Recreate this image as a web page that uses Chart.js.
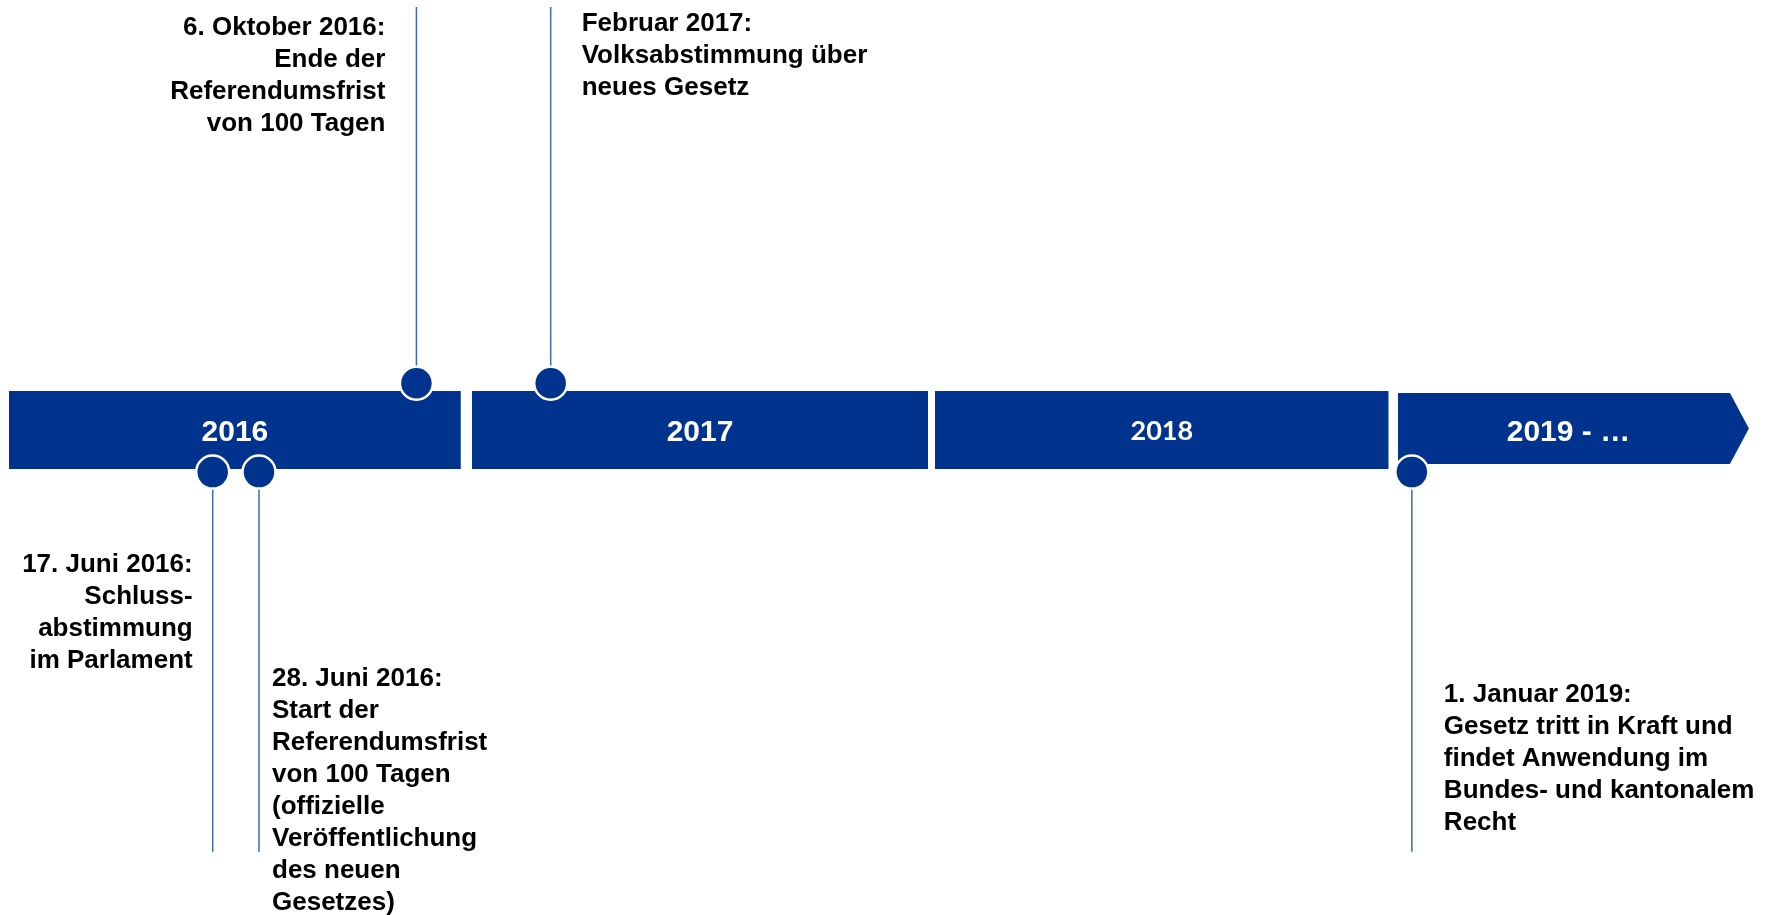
<!DOCTYPE html>
<html>
<head>
<meta charset="utf-8">
<script src="https://cdn.jsdelivr.net/npm/chart.js@4.4.1/dist/chart.umd.min.js"></script>
<style>
  html, body { margin: 0; padding: 0; background: #fff; }
  canvas { display: block; }
</style>
</head>
<body>
<canvas id="timeline" width="1776" height="915"></canvas>
<script>
// years on the band (x values are fractional years)
const years = ['2016', '2017', '2018', '2019 - …'];
const yearStart = [2016, 2017, 2018, 2019];
const yearEnd = [2016.976, 2017.985, 2018.98, 2019.717];
const arrowTip = 2019.758;

// events
const eventDates = [2016.44, 2016.54, 2016.88, 2017.17, 2019.03];
const eventSide = ['below', 'below', 'above', 'above', 'below'];
const eventTexts = [
  ['17. Juni 2016:', 'Schluss-', 'abstimmung', 'im Parlament'],
  ['28. Juni 2016:', 'Start der', 'Referendumsfrist', 'von 100 Tagen', '(offizielle', 'Veröffentlichung', 'des neuen', 'Gesetzes)'],
  ['6. Oktober 2016:', 'Ende der', 'Referendumsfrist', 'von 100 Tagen'],
  ['Februar 2017:', 'Volksabstimmung über', 'neues Gesetz'],
  ['1. Januar 2019:', 'Gesetz tritt in Kraft und', 'findet Anwendung im', 'Bundes- und kantonalem', 'Recht'],
];

// layout / style
const navy = '#00338d';
const lineBlue = '#3f67b8';
const barTop = 1, barBottom = -1;
const arrowTop = 0.95, arrowBottom = -0.87, arrowMid = 0.04;
const circleAbove = 1.2, circleBelow = -1.08;
const lineAbove = 10.85, lineBelow = -10.82;
const labelLayout = [
  { align: 'right', dx: -20, y: -3.64 },
  { align: 'left', dx: 13, y: -6.56 },
  { align: 'right', dx: -31, y: 10.13 },
  { align: 'left', dx: 31, y: 10.23 },
  { align: 'left', dx: 32, y: -6.97 },
];
const sans = '"Liberation Sans", Arial, Helvetica, sans-serif';
const yearFonts = ['bold 30px ' + sans, 'bold 30px ' + sans, 'bold 27px Lato, "Open Sans", sans-serif', 'bold 30px ' + sans];
const yearDx = [0, 0, 0, -5];
const textFont = 'bold 26px ' + sans;
const lineHeight = 32;

const datasets = [];

// plain year bars
for (let i = 0; i < 3; i++) {
  datasets.push({
    data: [{ x: yearStart[i], y: barTop }, { x: yearEnd[i], y: barTop }],
    showLine: true,
    fill: { value: barBottom },
    backgroundColor: navy,
    borderColor: 'transparent',
    borderWidth: 0,
    pointRadius: 0,
    order: 3,
  });
}

// last bar with arrow head: top edge, then bottom edge filled to it
datasets.push({
  data: [{ x: yearStart[3], y: arrowTop }, { x: yearEnd[3], y: arrowTop }, { x: arrowTip, y: arrowMid }],
  showLine: true,
  fill: false,
  borderColor: 'transparent',
  borderWidth: 0,
  pointRadius: 0,
  order: 3,
});
datasets.push({
  data: [{ x: yearStart[3], y: arrowBottom }, { x: yearEnd[3], y: arrowBottom }, { x: arrowTip, y: arrowMid }],
  showLine: true,
  fill: '-1',
  backgroundColor: navy,
  borderColor: 'transparent',
  borderWidth: 0,
  pointRadius: 0,
  order: 3,
});

// connector lines
eventDates.forEach((d, i) => {
  const up = eventSide[i] === 'above';
  datasets.push({
    data: [{ x: d, y: up ? lineAbove : lineBelow }, { x: d, y: up ? circleAbove : circleBelow }],
    showLine: true,
    fill: false,
    borderColor: lineBlue,
    borderWidth: 1.5,
    pointRadius: 0,
    order: 2,
  });
});

// event markers
datasets.push({
  data: eventDates.map((d, i) => ({ x: d, y: eventSide[i] === 'above' ? circleAbove : circleBelow })),
  showLine: false,
  pointRadius: 16.5,
  pointBackgroundColor: navy,
  pointBorderColor: '#fff',
  pointBorderWidth: 2.5,
  order: 0,
});

const textPlugin = {
  id: 'timelineText',
  afterDatasetsDraw(chart) {
    const { ctx, scales: { x, y } } = chart;
    ctx.save();
    ctx.fillStyle = '#fff';
    ctx.textAlign = 'center';
    ctx.textBaseline = 'alphabetic';
    years.forEach((label, i) => {
      const end = i === 3 ? arrowTip : yearEnd[i];
      const cx = x.getPixelForValue((yearStart[i] + end) / 2) + yearDx[i];
      const size = parseInt(yearFonts[i].match(/(\d+)px/)[1], 10);
      ctx.font = yearFonts[i];
      ctx.fillText(label, cx, y.getPixelForValue(0) + size * 0.36);
    });

    ctx.fillStyle = '#000';
    ctx.font = textFont;
    eventTexts.forEach((lines, i) => {
      const lay = labelLayout[i];
      const px = x.getPixelForValue(eventDates[i]) + lay.dx;
      const py = y.getPixelForValue(lay.y);
      ctx.textAlign = lay.align;
      lines.forEach((t, j) => ctx.fillText(t, px, py + j * lineHeight));
    });
    ctx.restore();
  },
};

function draw() {
  new Chart(document.getElementById('timeline'), {
    type: 'scatter',
    data: { datasets },
    options: {
      responsive: false,
      animation: false,
      layout: { padding: 0, autoPadding: false },
      scales: {
        x: { type: 'linear', display: false, min: 2015.9806, max: 2019.8165 },
        y: { type: 'linear', display: false, min: -12.44, max: 11.03 },
      },
      plugins: {
        legend: { display: false },
        tooltip: { enabled: false },
      },
      events: [],
    },
    plugins: [textPlugin],
  });
}

Promise.all([
  document.fonts.load('bold 26px "Liberation Sans"'),
  document.fonts.load('bold 27px Lato'),
]).then(draw, draw);
</script>
</body>
</html>
